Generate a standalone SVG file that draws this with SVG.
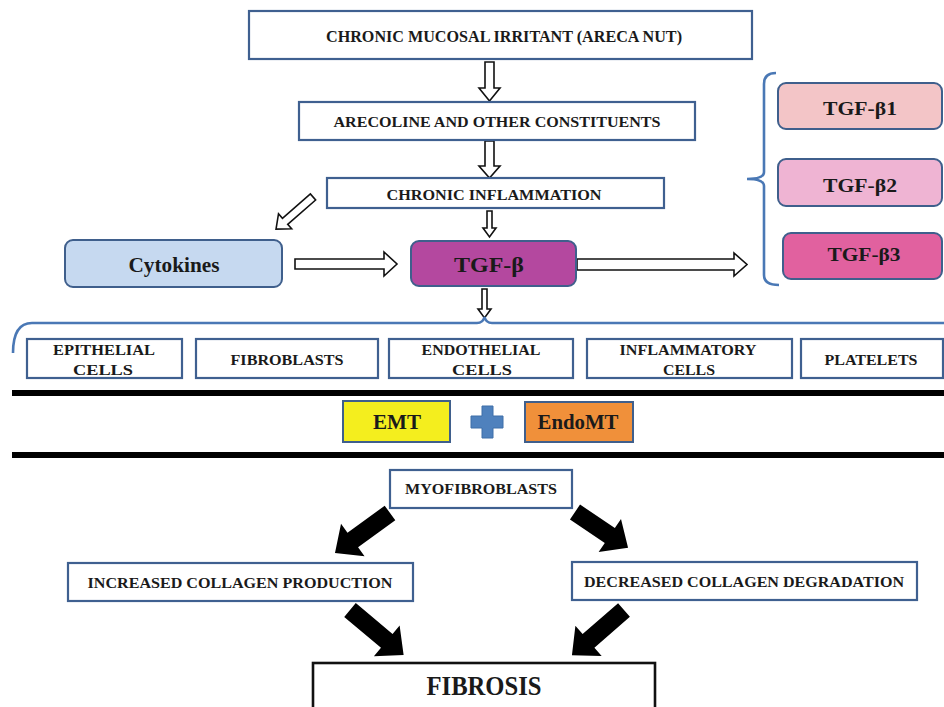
<svg xmlns="http://www.w3.org/2000/svg" width="944" height="707" viewBox="0 0 944 707">
<style>
.box{fill:#ffffff;stroke:#3f6090;stroke-width:2.2}
.rbox{stroke:#3f5f8c;stroke-width:2}
.t{font-family:"Liberation Serif","Times New Roman",serif;font-weight:bold;fill:#1a1a1a;text-anchor:middle}
.hol{fill:#ffffff;stroke:#111111;stroke-width:1.6;stroke-linejoin:miter}
.blk{fill:#000000}
.brace{fill:none;stroke:#4a78b5;stroke-width:2.6}
.bar{stroke:#000000;stroke-width:6}
</style>
<rect width="944" height="707" fill="#ffffff"/>

<g id="connectors">
  <!-- hollow down arrows -->
  <path class="hol" d="M485,62 L494,62 L494,88 L500,88 L489.5,101 L479,88 L485,88 Z"/>
  <path class="hol" d="M485,141 L494,141 L494,166 L500,166 L489.5,178 L479,166 L485,166 Z"/>
  <path class="hol" d="M487,211 L492,211 L492,228 L496,228 L489.5,237 L483,228 L487,228 Z"/>
  <path class="hol" d="M482,289 L487,289 L487,309 L491,309 L484.5,318 L478,309 L482,309 Z"/>
  <!-- diagonal hollow -->
  <path class="hol" transform="translate(313,197) rotate(139)" d="M0,-4 L37,-4 L37,-10 L49,0 L37,10 L37,4 L0,4 Z"/>
  <!-- horizontal hollow -->
  <path class="hol" d="M295,259 L384,259 L384,252 L397,264 L384,276 L384,269 L295,269 Z"/>
  <path class="hol" d="M577,259 L734,259 L734,253 L747,264.5 L734,276 L734,270 L577,270 Z"/>
  <!-- black arrows -->
  <path class="blk" transform="translate(390,513) rotate(144)" d="M0,-9 L46,-9 L46,-20 L68,0 L46,20 L46,9 L0,9 Z"/>
  <path class="blk" transform="translate(575,512) rotate(34)" d="M0,-9 L42,-9 L42,-20 L64,0 L42,20 L42,9 L0,9 Z"/>
  <path class="blk" transform="translate(350,610) rotate(40)" d="M0,-9 L48,-9 L48,-20 L70,0 L48,20 L48,9 L0,9 Z"/>
  <path class="blk" transform="translate(624,610) rotate(139)" d="M0,-9 L47,-9 L47,-20 L69,0 L47,20 L47,9 L0,9 Z"/>
  <!-- braces -->
  <path class="brace" d="M13,353 Q13,323 32,323 L477,323 Q483,323 484.5,317 Q486,323 492,323 L944,323"/>
  <path class="brace" d="M776,73 Q764,73 764,84 L764,172 Q764,179 747,179 Q764,179 764,186 L764,275 Q764,285 779,285"/>
  <!-- bars -->
  <line class="bar" x1="12" y1="393" x2="944" y2="393"/>
  <line class="bar" x1="12" y1="455" x2="944" y2="455"/>
</g>

<g id="n-irritant">
  <rect class="box" x="249" y="11" width="503" height="48"/>
  <text class="t" x="504" y="42" font-size="16" textLength="356" lengthAdjust="spacingAndGlyphs">CHRONIC MUCOSAL IRRITANT (ARECA NUT)</text>
</g>
<g id="n-arecoline">
  <rect class="box" x="299" y="102" width="396" height="38"/>
  <text class="t" x="497" y="127" font-size="15.5" textLength="327" lengthAdjust="spacingAndGlyphs">ARECOLINE AND OTHER CONSTITUENTS</text>
</g>
<g id="n-inflammation">
  <rect class="box" x="327" y="178" width="337" height="30"/>
  <text class="t" x="494" y="200" font-size="14.5" textLength="215" lengthAdjust="spacingAndGlyphs">CHRONIC INFLAMMATION</text>
</g>
<g id="n-cytokines">
  <rect class="rbox" x="65" y="240" width="217" height="47" rx="8" fill="#c6d9f0"/>
  <text class="t" x="174" y="272" font-size="22" textLength="91" lengthAdjust="spacingAndGlyphs">Cytokines</text>
</g>
<g id="n-tgfb">
  <rect class="rbox" x="411" y="241" width="165" height="45" rx="8" fill="#b4489f"/>
  <text class="t" x="489" y="272" font-size="21" textLength="70" lengthAdjust="spacingAndGlyphs">TGF-β</text>
</g>
<g id="n-tgfb1">
  <rect class="rbox" x="778" y="83" width="164" height="46" rx="8" fill="#f3c5c7"/>
  <text class="t" x="860" y="115" font-size="19" textLength="74" lengthAdjust="spacingAndGlyphs">TGF-β1</text>
</g>
<g id="n-tgfb2">
  <rect class="rbox" x="778" y="159" width="164" height="47" rx="8" fill="#efb4d3"/>
  <text class="t" x="860" y="192" font-size="19" textLength="74" lengthAdjust="spacingAndGlyphs">TGF-β2</text>
</g>
<g id="n-tgfb3">
  <rect class="rbox" x="783" y="233" width="159" height="46" rx="8" fill="#e1619f"/>
  <text class="t" x="864" y="261" font-size="19" textLength="73" lengthAdjust="spacingAndGlyphs">TGF-β3</text>
</g>

<g id="n-epithelial">
  <rect class="box" x="27" y="339" width="155" height="39"/>
  <text class="t" x="104" y="355" font-size="14.5" textLength="102" lengthAdjust="spacingAndGlyphs">EPITHELIAL</text>
  <text class="t" x="103" y="375" font-size="14.5" textLength="60" lengthAdjust="spacingAndGlyphs">CELLS</text>
</g>
<g id="n-fibroblasts">
  <rect class="box" x="196" y="339" width="182" height="39"/>
  <text class="t" x="287" y="365" font-size="14.5" textLength="113" lengthAdjust="spacingAndGlyphs">FIBROBLASTS</text>
</g>
<g id="n-endothelial">
  <rect class="box" x="389" y="339" width="184" height="39"/>
  <text class="t" x="481" y="355" font-size="14.5" textLength="119" lengthAdjust="spacingAndGlyphs">ENDOTHELIAL</text>
  <text class="t" x="482" y="375" font-size="14.5" textLength="60" lengthAdjust="spacingAndGlyphs">CELLS</text>
</g>
<g id="n-inflammatory">
  <rect class="box" x="587" y="339" width="205" height="39"/>
  <text class="t" x="688" y="355" font-size="14.5" textLength="137" lengthAdjust="spacingAndGlyphs">INFLAMMATORY</text>
  <text class="t" x="689" y="375" font-size="14.5" textLength="52" lengthAdjust="spacingAndGlyphs">CELLS</text>
</g>
<g id="n-platelets">
  <rect class="box" x="801" y="339" width="142" height="39"/>
  <text class="t" x="871" y="365" font-size="14.5" textLength="93" lengthAdjust="spacingAndGlyphs">PLATELETS</text>
</g>

<g id="n-emt">
  <rect class="rbox" x="343" y="401" width="107" height="41" fill="#f4ee1e"/>
  <text class="t" x="397" y="429" font-size="22" textLength="48" lengthAdjust="spacingAndGlyphs">EMT</text>
</g>
<g id="n-plus">
  <path d="M482,406 L493,406 L493,416 L503,416 L503,428 L493,428 L493,438 L482,438 L482,428 L471,428 L471,416 L482,416 Z" fill="#4f81bd" stroke="#3f6fa8" stroke-width="1"/>
</g>
<g id="n-endomt">
  <rect class="rbox" x="525" y="402" width="108" height="40" fill="#f0903a"/>
  <text class="t" x="578" y="429" font-size="22" textLength="81" lengthAdjust="spacingAndGlyphs">EndoMT</text>
</g>

<g id="n-myofibroblasts">
  <rect class="box" x="390" y="470" width="182" height="38"/>
  <text class="t" x="481" y="494" font-size="14.5" textLength="152" lengthAdjust="spacingAndGlyphs">MYOFIBROBLASTS</text>
</g>
<g id="n-increased">
  <rect class="box" x="68" y="563" width="345" height="38"/>
  <text class="t" x="240" y="588" font-size="15.5" textLength="305" lengthAdjust="spacingAndGlyphs">INCREASED COLLAGEN PRODUCTION</text>
</g>
<g id="n-decreased">
  <rect class="box" x="572" y="562" width="345" height="38"/>
  <text class="t" x="744" y="587" font-size="15.5" textLength="320" lengthAdjust="spacingAndGlyphs">DECREASED COLLAGEN DEGRADATION</text>
</g>
<g id="n-fibrosis">
  <rect x="313" y="663" width="342" height="50" fill="#ffffff" stroke="#111111" stroke-width="2.6"/>
  <text class="t" x="484" y="695" font-size="27" textLength="115" lengthAdjust="spacingAndGlyphs">FIBROSIS</text>
</g>
</svg>
